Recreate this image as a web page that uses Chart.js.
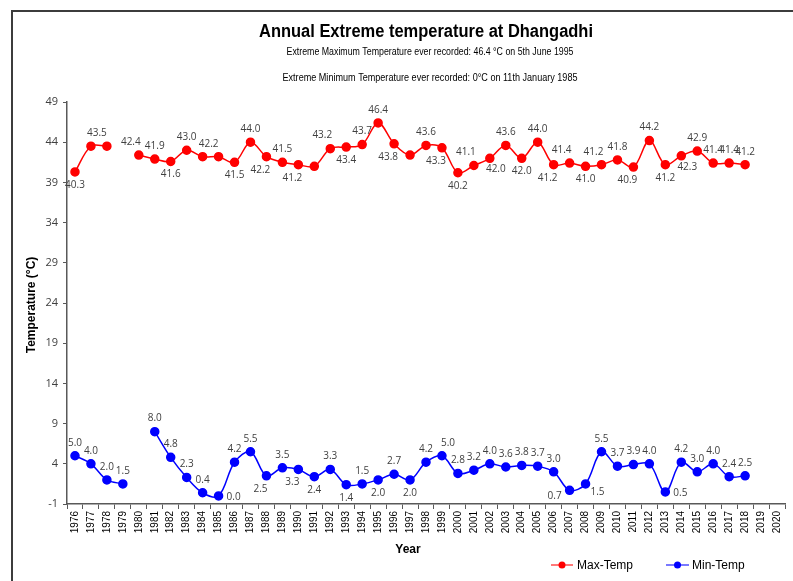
<!DOCTYPE html>
<html><head><meta charset="utf-8">
<script src="https://cdn.jsdelivr.net/npm/chart.js@4/dist/chart.umd.min.js"></script>
<style>html,body{margin:0;padding:0;background:#fff;}#wrap{width:793px;height:581px;position:relative;}</style>
</head><body><div id="wrap"><canvas id="c" width="793" height="581"></canvas></div>
<script>
const years = ['1976','1977','1978','1979','1980','1981','1982','1983','1984','1985','1986','1987','1988','1989','1990','1991','1992','1993','1994','1995','1996','1997','1998','1999','2000','2001','2002','2003','2004','2005','2006','2007','2008','2009','2010','2011','2012','2013','2014','2015','2016','2017','2018','2019','2020'];
const maxTemp = [40.3,43.5,43.5,null,42.4,41.9,41.6,43.0,42.2,42.2,41.5,44.0,42.2,41.5,41.2,41.0,43.2,43.4,43.7,46.4,43.8,42.4,43.6,43.3,40.2,41.1,42.0,43.6,42.0,44.0,41.2,41.4,41.0,41.2,41.8,40.9,44.2,41.2,42.3,42.9,41.4,41.4,41.2,null,null];
const minTemp = [5.0,4.0,2.0,1.5,null,8.0,4.8,2.3,0.4,0.0,4.2,5.5,2.5,3.5,3.3,2.4,3.3,1.4,1.5,2.0,2.7,2.0,4.2,5.0,2.8,3.2,4.0,3.6,3.8,3.7,3.0,0.7,1.5,5.5,3.7,3.9,4.0,0.5,4.2,3.0,4.0,2.4,2.5,null,null];
const yTicks = [-1,4,9,14,19,24,29,34,39,44,49];
const seriesNames = ['Max-Temp','Min-Temp'];
const titleText = 'Annual Extreme temperature at Dhangadhi';
const subTitles = ['Extreme Maximum Temperature ever recorded: 46.4 °C on 5th June 1995','Extreme Minimum Temperature ever recorded: 0°C on 11th January 1985'];

// label placement codes (style, not data)
const maxLabelPos = ['b','ar','n','n','al','a','b','a','ar','n','b','a','bl','a','bl','n','al','b','a','a','bl','n','a','bl','b','al','br','a','b','a','bl','al','b','al','a','bl','a','b','br','a','a','a','a','n','n'];
const minLabelPos = ['a','a','a','a','n','a','a','a','a','r','a','a','bl','a','bl','b','a','b','a','b','a','b','a','ar','a','a','a','a','a','a','a','lb','rb','a','a','a','a','r','a','a','a','a','a','n','n'];
const posOffsets = {a:[0,-13],b:[0,13],al:[-8,-13],ar:[6,-13],bl:[-6,13],br:[6,11],r:[15,1],lb:[-15,6],rb:[12,8]};

const deco = {
  id:'deco',
  beforeDraw(chart){
    const c = chart.ctx;
    c.save();
    c.fillStyle='#fff'; c.fillRect(0,0,chart.width,chart.height);
    c.strokeStyle='#3c3c3c'; c.lineWidth=2;
    c.beginPath(); c.moveTo(12,chart.height+2); c.lineTo(12,11); c.lineTo(chart.width+2,11); c.stroke();
    c.restore();
  },
  afterDraw(chart){
    const c = chart.ctx;
    c.save();
    c.textAlign='center'; c.textBaseline='middle';
    c.fillStyle='#000';
    c.font='bold 18px "Liberation Sans", Arial, sans-serif';
    c.fillText(titleText, 426, 32, 334);
    c.font='11.5px "Liberation Sans", Arial, sans-serif';
    c.fillText(subTitles[0], 430, 52, 287);
    c.fillText(subTitles[1], 430, 78, 295);
    // axis titles
    c.font='bold 12px "Liberation Sans", Arial, sans-serif';
    c.fillText('Year', 408, 550);
    c.save(); c.translate(32, 305); c.rotate(-Math.PI/2); c.fillText('Temperature (°C)', 0, 0); c.restore();
    // data labels
    c.font='10px "Open Sans", sans-serif';
    c.fillStyle='#404040';
    const posArr=[maxLabelPos,minLabelPos];
    const vals=[maxTemp,minTemp];
    chart.data.datasets.forEach((ds,i)=>{
      const meta=chart.getDatasetMeta(i);
      meta.data.forEach((pt,j)=>{
        const v=vals[i][j]; const p=posArr[i][j];
        if(v===null||p==='n') return;
        const o=posOffsets[p];
        c.fillText(v.toFixed(1), pt.x+o[0], pt.y+o[1]);
      });
    });
    // legend
    const leg=[{x1:551,x2:573,xt:577,col:'#ff0000'},{x1:666,x2:689,xt:692,col:'#0000ff'}];
    leg.forEach((l,i)=>{
      c.strokeStyle=l.col; c.lineWidth=1.5; c.globalAlpha=0.7;
      c.beginPath(); c.moveTo(l.x1,565); c.lineTo(l.x2,565); c.stroke();
      c.globalAlpha=1;
      c.fillStyle=l.col; c.beginPath(); c.arc((l.x1+l.x2)/2,565,3.5,0,Math.PI*2); c.fill();
      c.fillStyle='#000'; c.textAlign='left'; c.font='12px "Liberation Sans", Arial, sans-serif';
      c.fillText(seriesNames[i], l.xt, 566);
    });
    c.restore();
  }
};

new Chart(document.getElementById('c'), {
  type:'line',
  data:{labels:years, datasets:[
    {label:seriesNames[0], data:maxTemp, borderColor:'#ff0000', backgroundColor:'#ff0000', pointBackgroundColor:'#ff0000', pointBorderColor:'#ff0000', pointRadius:4, pointHoverRadius:4, borderWidth:1.5, tension:0.35, spanGaps:false},
    {label:seriesNames[1], data:minTemp, borderColor:'#0000ff', backgroundColor:'#0000ff', pointBackgroundColor:'#0000ff', pointBorderColor:'#0000ff', pointRadius:4, pointHoverRadius:4, borderWidth:1.5, tension:0.35, spanGaps:false}
  ]},
  options:{
    responsive:false, animation:false, devicePixelRatio:1,
    layout:{padding:{left:0,right:8,top:102,bottom:37}},
    plugins:{legend:{display:false}, title:{display:false}, tooltip:{enabled:false}},
    events:[],
    scales:{
      x:{offset:true,
        grid:{display:true, offset:true, drawOnChartArea:false, tickLength:5, color:'#595959', lineWidth:1},
        border:{color:'#595959', width:1.5},
        ticks:{minRotation:90, maxRotation:90, autoSkip:false, color:'#000', padding:2, font:{family:'"Liberation Sans", Arial, sans-serif', size:10}},
        afterFit(s){ s.height=40; }
      },
      y:{min:-1, max:49,
        afterBuildTicks(s){ s.ticks = yTicks.map(v=>({value:v})); },
        grid:{display:true, drawOnChartArea:false, tickLength:4, color:'#595959'},
        border:{color:'#595959', width:1.5},
        ticks:{color:'#404040', padding:5, font:{family:'"Open Sans", sans-serif', size:11}},
        afterFit(s){ s.width=67; }
      }
    }
  },
  plugins:[deco]
});
</script>
</body></html>
